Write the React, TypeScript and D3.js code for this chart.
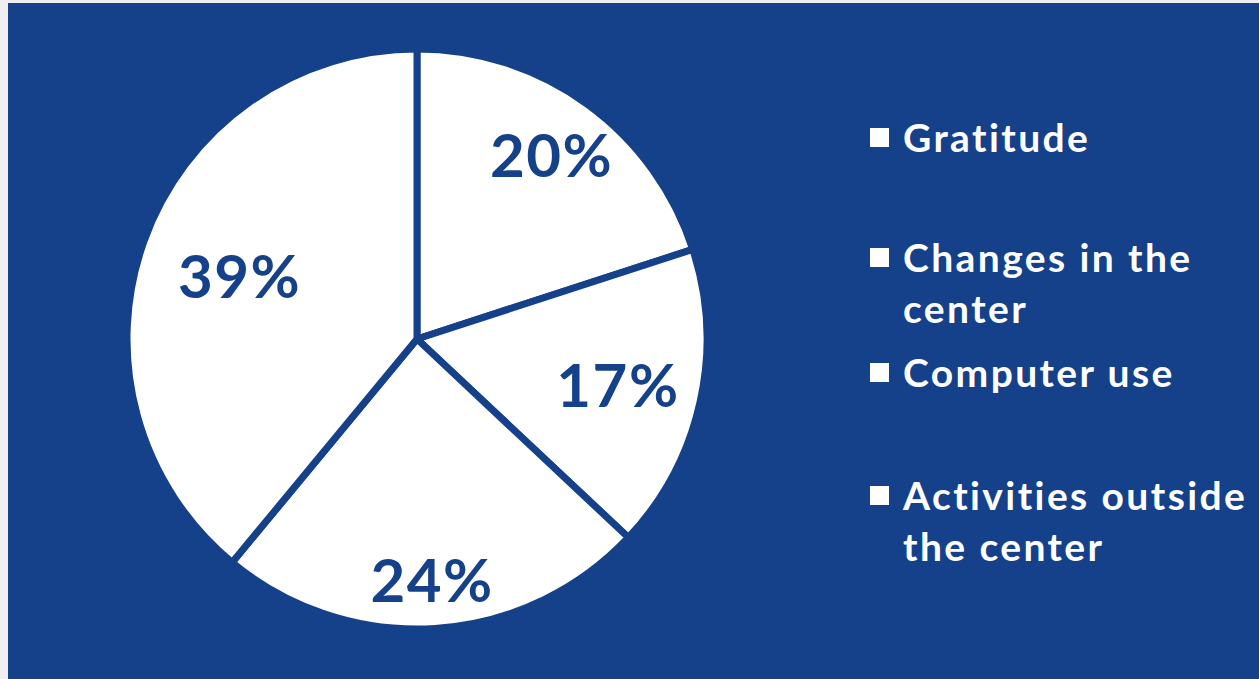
import React from "react";
import * as d3 from "d3";

const categories = ["Gratitude", "Changes in the center", "Computer use", "Activities outside the center"];
const values = [20, 17, 24, 39];
const labels = ["20%", "17%", "24%", "39%"];
const legendLines = [["Gratitude"], ["Changes in the", "center"], ["Computer use"], ["Activities outside", "the center"]];
// radial placement of each data label, as a fraction of the radius
const labelRadiusFrac = [0.79, 0.71, 0.83, 0.65];

const W = 1259, H = 679;
const BLUE = "#15418a";

export default function App() {
  const cx = 417, cy = 339, r = 290;
  const pie = d3.pie<number>().sort(null).value((d) => d)(values);
  const arc = d3.arc<d3.PieArcDatum<number>>().innerRadius(0).outerRadius(r);
  const legendY = [152, 272, 387, 510];
  const lineH = 51;
  return (
    <div style={{ position: "fixed", left: 0, top: 0, width: W, height: H, background: "#f0eef0" }}>
      <svg width={W} height={H} style={{ display: "block" }}>
        <rect x={8} y={3} width={W - 8} height={H - 3} fill={BLUE} />
        <g transform={`translate(${cx},${cy})`}>
          {pie.map((p, i) => (
            <path key={i} d={arc(p) || ""} fill="#ffffff" stroke={BLUE} strokeWidth={7} strokeLinejoin="round" />
          ))}
          {pie.map((p, i) => {
            const rr = r * labelRadiusFrac[i];
            const [x, y] = d3.arc<d3.PieArcDatum<number>>().innerRadius(rr).outerRadius(rr).centroid(p);
            return (
              <text key={"l" + i} x={x} y={y} textAnchor="middle" dominantBaseline="central"
                fontFamily="Lato, 'Open Sans', sans-serif" fontWeight={700} fontSize={60} fill={BLUE} letterSpacing={1.5}>
                {labels[i]}
              </text>
            );
          })}
        </g>
        {categories.map((c, i) => (
          <g key={c}>
            <rect x={870} y={legendY[i] - 24} width={19} height={19} fill="#ffffff" />
            {legendLines[i].map((t, j) => (
              <text key={j} x={903} y={legendY[i] + j * lineH} fontFamily="Lato, 'Open Sans', sans-serif"
                fontWeight={700} fontSize={39} fill="#ffffff" letterSpacing={2.4}>
                {t}
              </text>
            ))}
          </g>
        ))}
      </svg>
    </div>
  );
}
